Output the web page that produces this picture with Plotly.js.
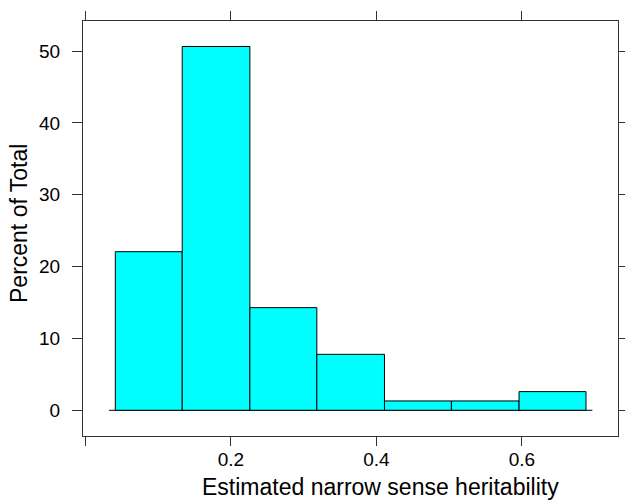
<!DOCTYPE html>
<html>
<head>
<meta charset="utf-8">
<script src="https://cdn.plot.ly/plotly-3.0.1.min.js"></script>
<style>
  html, body { margin: 0; padding: 0; background: #ffffff; }
  #chart { width: 625px; height: 501px; }
</style>
</head>
<body>
<div id="chart"></div>
<script>
// Histogram of estimated narrow sense heritability (percent of total per bin)
const binBreaks = [0.041, 0.133, 0.226, 0.318, 0.411, 0.503, 0.596, 0.688];
const percentOfTotal = [22.08, 50.65, 14.29, 7.79, 1.30, 1.30, 2.60];
const xTickValues = [0.0, 0.2, 0.4, 0.6];
const xTickLabels = ["", "0.2", "0.4", "0.6"];
const yTickValues = [0, 10, 20, 30, 40, 50];
const xTitle = "Estimated narrow sense heritability";
const yTitle = "Percent of Total";

const binCenters = percentOfTotal.map((_, i) => (binBreaks[i] + binBreaks[i + 1]) / 2);
const binWidths = percentOfTotal.map((_, i) => binBreaks[i + 1] - binBreaks[i]);

const frameColor = "#333333";
const fontFamily = "Liberation Sans, Arial, Helvetica, sans-serif";

const trace = {
  type: "bar",
  x: binCenters,
  y: percentOfTotal,
  width: binWidths,
  base: 0,
  marker: { color: "#00ffff", line: { color: "#000000", width: 1 } },
  hoverinfo: "x+y"
};

const baselinePad = 0.0087;

const layout = {
  width: 625,
  height: 501,
  margin: { l: 83, r: 7, t: 21, b: 65 },
  paper_bgcolor: "#ffffff",
  plot_bgcolor: "#ffffff",
  showlegend: false,
  font: { family: fontFamily, color: "#000000" },
  bargap: 0,
  xaxis: {
    range: [-0.0034, 0.732],
    tickvals: xTickValues,
    ticktext: xTickLabels,
    ticks: "outside",
    ticklen: 9,
    tickwidth: 1,
    tickcolor: frameColor,
    showline: true,
    linecolor: frameColor,
    linewidth: 1,
    mirror: "allticks",
    showgrid: false,
    zeroline: false,
    tickfont: { size: 19, family: fontFamily, color: "#000000" },
    ticklabelstandoff: -3
  },
  yaxis: {
    range: [-3.58, 54.2],
    tickvals: yTickValues,
    ticks: "outside",
    ticklen: 10,
    tickwidth: 1,
    tickcolor: frameColor,
    showline: true,
    linecolor: frameColor,
    linewidth: 1,
    mirror: "allticks",
    showgrid: false,
    zeroline: false,
    tickfont: { size: 19, family: fontFamily, color: "#000000" },
    ticklabelstandoff: 8
  },
  annotations: [
    {
      text: xTitle,
      xref: "paper", yref: "paper",
      x: (380 - 83) / 535, y: (436 - 487) / 415,
      xanchor: "center", yanchor: "middle",
      showarrow: false,
      font: { size: 23, family: fontFamily, color: "#000000" }
    },
    {
      text: yTitle,
      textangle: -90,
      xref: "paper", yref: "paper",
      x: (19 - 83) / 535, y: (436 - 224) / 415,
      xanchor: "center", yanchor: "middle",
      showarrow: false,
      font: { size: 23, family: fontFamily, color: "#000000" }
    }
  ],
  shapes: [{
    type: "line",
    xref: "x", yref: "y",
    x0: binBreaks[0] - baselinePad,
    x1: binBreaks[binBreaks.length - 1] + baselinePad,
    y0: 0, y1: 0,
    line: { color: "#000000", width: 1 },
    layer: "below"
  }]
};

Plotly.newPlot("chart", [trace], layout, { staticPlot: true, displayModeBar: false });
</script>
</body>
</html>
